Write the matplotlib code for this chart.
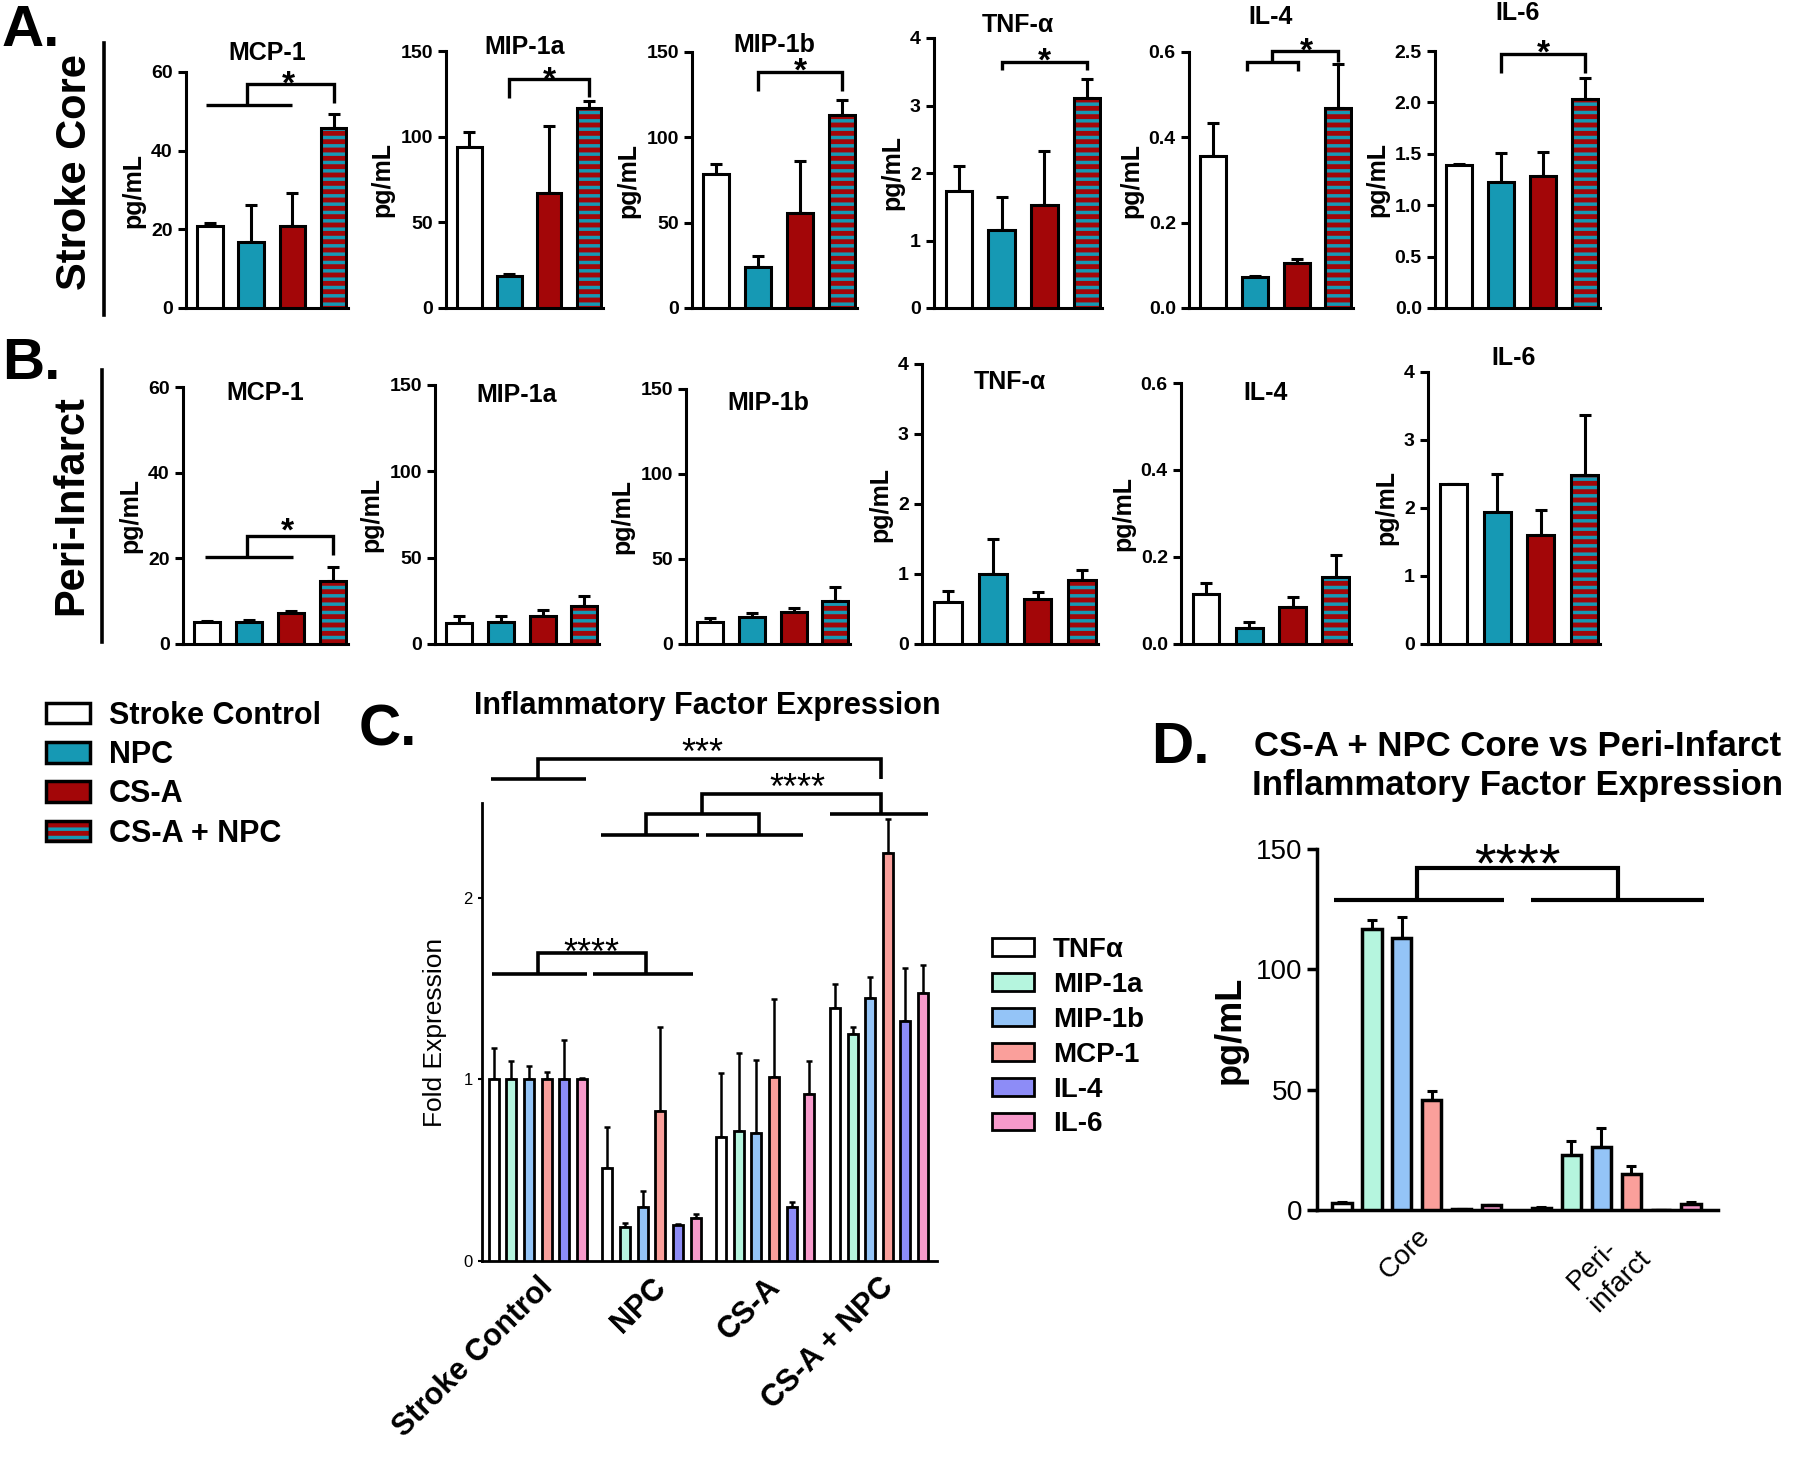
import matplotlib
matplotlib.use('Agg')
import matplotlib.pyplot as plt
from matplotlib.patches import Patch
from matplotlib.lines import Line2D
from matplotlib.ticker import FormatStrFormatter
import numpy as np

# ---- data -------------------------------------------------------------
GROUPS = ['Stroke Control', 'NPC', 'CS-A', 'CS-A + NPC']
CYTOKINES = ['MCP-1', 'MIP-1a', 'MIP-1b', 'TNF-\u03b1', 'IL-4', 'IL-6']

# stroke core, pg/mL (mean, upper SEM) per group
core_mcp1 = [20.8, 16.9, 20.9, 45.8]
core_mcp1_err = [0.8, 9.2, 8.3, 3.5]
core_mip1a = [94.1, 18.4, 67.3, 116.8]
core_mip1a_err = [8.4, 1.6, 38.9, 3.9]
core_mip1b = [78.5, 23.8, 55.5, 113.0]
core_mip1b_err = [5.7, 6.4, 30.6, 8.8]
core_tnf = [1.74, 1.16, 1.53, 3.11]
core_tnf_err = [0.36, 0.49, 0.79, 0.29]
core_il4 = [0.356, 0.0725, 0.105, 0.469]
core_il4_err = [0.077, 0.003, 0.010, 0.104]
core_il6 = [1.39, 1.23, 1.28, 2.03]
core_il6_err = [0.01, 0.28, 0.24, 0.21]

# peri-infarct
peri_mcp1 = [5.05, 5.05, 7.2, 14.8]
peri_mcp1_err = [0.35, 0.65, 0.4, 3.1]
peri_mip1a = [12.1, 12.7, 16.4, 22.2]
peri_mip1a_err = [3.9, 3.7, 3.1, 5.4]
peri_mip1b = [12.7, 15.9, 18.6, 25.5]
peri_mip1b_err = [2.6, 2.3, 2.6, 7.8]
peri_tnf = [0.60, 1.00, 0.643, 0.91]
peri_tnf_err = [0.16, 0.50, 0.10, 0.15]
peri_il4 = [0.115, 0.037, 0.086, 0.153]
peri_il4_err = [0.026, 0.013, 0.022, 0.052]
peri_il6 = [2.36, 1.94, 1.61, 2.48]
peri_il6_err = [0.0, 0.56, 0.36, 0.89]

YMAX_A = [60, 150, 150, 4, 0.6, 2.5]
YMAX_B = [60, 150, 150, 4, 0.6, 4]
NTICK_A = [4, 4, 4, 5, 4, 6]
NTICK_B = [4, 4, 4, 5, 4, 5]
FMT_A = ['%d', '%d', '%d', '%d', '%.1f', '%.1f']
FMT_B = ['%d', '%d', '%d', '%d', '%.1f', '%d']

# panel C: fold expression, order TNFa, MIP-1a, MIP-1b, MCP-1, IL-4, IL-6
FOLD_LABELS = ['TNF\u03b1', 'MIP-1a', 'MIP-1b', 'MCP-1', 'IL-4', 'IL-6']
fold_control = [1.0, 1.0, 1.0, 1.0, 1.0, 1.0]
fold_control_err = [0.17, 0.10, 0.075, 0.04, 0.215, 0.007]
fold_npc = [0.51, 0.188, 0.298, 0.823, 0.197, 0.234]
fold_npc_err = [0.23, 0.02, 0.089, 0.462, 0.006, 0.024]
fold_csa = [0.681, 0.715, 0.705, 1.01, 0.295, 0.921]
fold_csa_err = [0.354, 0.427, 0.40, 0.43, 0.027, 0.179]
fold_csanpc = [1.39, 1.247, 1.446, 2.247, 1.32, 1.473]
fold_csanpc_err = [0.133, 0.043, 0.114, 0.183, 0.293, 0.154]

# panel D: CS-A + NPC, core vs peri-infarct
D_GROUPS = ['Core', 'Peri-\ninfarct']
d_core = [3.1, 116.6, 113.0, 45.8, 0.47, 2.0]
d_core_err = [0.3, 3.9, 8.7, 3.5, 0.10, 0.2]
d_peri = [0.9, 22.8, 26.0, 15.0, 0.15, 2.5]
d_peri_err = [0.15, 5.7, 8.0, 3.2, 0.05, 0.9]

# ---- style ------------------------------------------------------------
W, H = 1800, 1465
TEAL = '#1699b4'
RED = '#a30608'
FOLD_COLORS = ['white', '#b5f5de', '#94c4f7', '#fa9f9b', '#8d8cf7', '#f79acb']

plt.rcParams['font.family'] = ['Liberation Sans', 'DejaVu Sans']
plt.rcParams['hatch.linewidth'] = 2.5
plt.rcParams['axes.linewidth'] = 2.2


def fx(x):
    return x / W


def fy(y):
    return 1 - y / H


def px_rect(x0, x1, ytop, ybot):
    return [x0 / W, 1 - ybot / H, (x1 - x0) / W, (ybot - ytop) / H]


def clean_axes(ax, lw=2.2):
    ax.spines['top'].set_visible(False)
    ax.spines['right'].set_visible(False)
    ax.spines['left'].set_linewidth(lw)
    ax.spines['bottom'].set_linewidth(lw)
    ax.tick_params(axis='x', length=0, labelbottom=False)
    ax.tick_params(axis='y', direction='out', length=6, width=lw)


def star(ax, x, y, s, size, weight='bold'):
    # y is where the asterisk glyph centre should sit
    ax.annotate(s, (x, y), xytext=(0, -0.57 * size), textcoords='offset points',
                ha='center', va='baseline', fontsize=size, fontweight=weight,
                annotation_clip=False)


def bracket(ax, pts, lw=2.4):
    xs, ys = zip(*pts)
    ax.plot(xs, ys, color='k', lw=lw, clip_on=False, solid_capstyle='butt',
            solid_joinstyle='miter')


def cytokine_panel(ax, means, errs, ymax, ntick, fmt):
    x = np.arange(4)
    bw = 0.62
    ax.bar(x[:3], means[:3], bw, color=['white', TEAL, RED],
           edgecolor='k', linewidth=2.2, zorder=3)
    ax.bar(x[3], means[3], bw, color=RED, edgecolor=TEAL, hatch='--',
           linewidth=0, zorder=3)
    ax.bar(x[3], means[3], bw, fill=False, edgecolor='k', linewidth=2.2, zorder=4)
    ax.errorbar(x, means, yerr=[np.zeros(4), errs], fmt='none', ecolor='k',
                elinewidth=2.2, capsize=4.5, capthick=2.2, zorder=2)
    ax.set_xlim(-0.58, 3.35)
    ax.set_ylim(0, ymax)
    ax.set_yticks(np.linspace(0, ymax, ntick))
    ax.yaxis.set_major_formatter(FormatStrFormatter(fmt))
    clean_axes(ax)
    for lab in ax.get_yticklabels():
        lab.set_fontweight('bold')
        lab.set_fontsize(14)
    ax.set_ylabel('pg/mL', fontsize=18, fontweight='bold', labelpad=4)


fig = plt.figure(figsize=(18, 14.65), dpi=100)

# ---- panels A and B ---------------------------------------------------
A_BOXES = [(186, 348, 72), (446, 603, 51), (692, 857, 52),
           (934, 1102, 38), (1189, 1353, 52), (1435, 1600, 51)]
B_BOXES = [(183, 348, 387), (435, 599, 385), (686, 850, 389),
           (922, 1098, 364), (1181, 1351, 383), (1428, 1600, 372)]
A_TITLE_Y = [53, 47, 45, 25, 17, 13]
B_TITLE_Y = [393, 395, 403, 382, 393, 358]

core = [(core_mcp1, core_mcp1_err), (core_mip1a, core_mip1a_err),
        (core_mip1b, core_mip1b_err), (core_tnf, core_tnf_err),
        (core_il4, core_il4_err), (core_il6, core_il6_err)]
peri = [(peri_mcp1, peri_mcp1_err), (peri_mip1a, peri_mip1a_err),
        (peri_mip1b, peri_mip1b_err), (peri_tnf, peri_tnf_err),
        (peri_il4, peri_il4_err), (peri_il6, peri_il6_err)]

A_BRACKETS = [
    [[(-0.1, 51.7), (2.0, 51.7)], [(0.9, 51.7), (0.9, 56.9), (3, 56.9), (3, 52.1)]],
    [[(1, 122.3), (1, 133.5), (3, 133.5), (3, 123.2)]],
    [[(1, 127.2), (1, 138.3), (3, 138.3), (3, 127.2)]],
    [[(1, 3.52), (1, 3.65), (3, 3.65), (3, 3.52)]],
    [[(0.8, 0.555), (0.8, 0.577), (2.03, 0.577), (2.03, 0.555)],
     [(1.4, 0.577), (1.4, 0.603), (3, 0.603), (3, 0.577)]],
    [[(1, 2.29), (1, 2.474), (3, 2.474), (3, 2.29)]],
]
A_STARS = [(1.9, 59.3), (2, 138.8), (2, 144.2), (2, 3.80), (2.24, 0.624), (2, 2.57)]

for i in range(6):
    x0, x1, yt = A_BOXES[i]
    ax = fig.add_axes(px_rect(x0, x1, yt, 308))
    cytokine_panel(ax, core[i][0], core[i][1], YMAX_A[i], NTICK_A[i], FMT_A[i])
    fig.text(fx((x0 + x1) / 2), fy(A_TITLE_Y[i]), CYTOKINES[i], ha='center',
             va='center', fontsize=18, fontweight='bold')
    for pts in A_BRACKETS[i]:
        bracket(ax, pts)
    star(ax, A_STARS[i][0], A_STARS[i][1], '*', 24)

for i in range(6):
    x0, x1, yt = B_BOXES[i]
    ax = fig.add_axes(px_rect(x0, x1, yt, 644))
    cytokine_panel(ax, peri[i][0], peri[i][1], YMAX_B[i], NTICK_B[i], FMT_B[i])
    fig.text(fx((x0 + x1) / 2), fy(B_TITLE_Y[i]), CYTOKINES[i], ha='center',
             va='center', fontsize=18, fontweight='bold')
    if i == 0:
        bracket(ax, [(-0.05, 20.3), (2.04, 20.3)])
        bracket(ax, [(0.94, 20.3), (0.94, 25.2), (3, 25.2), (3, 20.8)])
        star(ax, 1.9, 28.6, '*', 24)

fig.text(fx(2), fy(46), 'A.', fontsize=42, fontweight='bold', va='baseline')
fig.text(fx(2), fy(379), 'B.', fontsize=42, fontweight='bold', va='baseline')
fig.text(fx(75), fy(172), 'Stroke Core', rotation=90, ha='center', va='center',
         fontsize=30, fontweight='bold')
fig.text(fx(71), fy(505), 'Peri-Infarct', rotation=90, ha='center', va='center',
         fontsize=30, fontweight='bold')
fig.add_artist(Line2D([fx(104), fx(104)], [fy(43), fy(315)], color='k', lw=2.6))
fig.add_artist(Line2D([fx(102), fx(102)], [fy(370), fy(642)], color='k', lw=2.6))

# group legend
hatched = (Patch(facecolor=RED, edgecolor=TEAL, hatch='--', linewidth=0),
           Patch(fill=False, edgecolor='k', linewidth=2.5))
handles = [Patch(facecolor='white', edgecolor='k', linewidth=2.5),
           Patch(facecolor=TEAL, edgecolor='k', linewidth=2.5),
           Patch(facecolor=RED, edgecolor='k', linewidth=2.5), hatched]
fig.legend(handles, GROUPS, loc='upper left', bbox_to_anchor=(fx(46), fy(701)),
           frameon=False, prop={'size': 22, 'weight': 'bold'},
           handlelength=1.45, handleheight=0.65, handletextpad=0.6,
           labelspacing=0.3, borderpad=0, borderaxespad=0)

# ---- panel C ----------------------------------------------------------
axc = fig.add_axes(px_rect(482, 937, 803, 1261))
fold = [(fold_control, fold_control_err), (fold_npc, fold_npc_err),
        (fold_csa, fold_csa_err), (fold_csanpc, fold_csanpc_err)]
gx = np.arange(len(GROUPS))
pitch, bw = 0.155, 0.088
for j, lab in enumerate(FOLD_LABELS):
    vals = [fold[g][0][j] for g in range(4)]
    errs = [fold[g][1][j] for g in range(4)]
    xs = gx + (j - 2.5) * pitch
    axc.bar(xs, vals, bw, color=FOLD_COLORS[j], edgecolor='k', linewidth=2.0,
            zorder=3, label=lab)
    axc.errorbar(xs, vals, yerr=[np.zeros(4), errs], fmt='none', ecolor='k',
                 elinewidth=1.8, capsize=2, capthick=1.8, zorder=2)
axc.set_xlim(-0.49, 3.51)
axc.set_ylim(0, 2.52)
axc.set_yticks([0, 1, 2])
clean_axes(axc, lw=2.0)
axc.tick_params(axis='y', length=3, width=1.5, labelsize=12)
axc.tick_params(axis='x', labelbottom=True, pad=8)
axc.set_xticks(gx)
axc.set_xticklabels(GROUPS, rotation=45, ha='right', rotation_mode='anchor',
                    fontsize=22, fontweight='bold')
axc.set_ylabel('Fold Expression', fontsize=19, labelpad=12)

bracket(axc, [(-0.414, 2.654), (0.423, 2.654)], lw=2.6)
bracket(axc, [(0, 2.654), (0, 2.764), (3.02, 2.764), (3.02, 2.654)], lw=2.6)
star(axc, 1.45, 2.85, '***', 26, weight='normal')
bracket(axc, [(0.56, 2.346), (1.42, 2.346)], lw=2.6)
bracket(axc, [(1.48, 2.346), (2.33, 2.346)], lw=2.6)
bracket(axc, [(0.95, 2.346), (0.95, 2.46), (1.947, 2.46), (1.947, 2.346)], lw=2.6)
bracket(axc, [(1.445, 2.46), (1.445, 2.571), (3.02, 2.571), (3.02, 2.46)], lw=2.6)
bracket(axc, [(2.57, 2.46), (3.43, 2.46)], lw=2.6)
star(axc, 2.28, 2.654, '****', 26, weight='normal')
bracket(axc, [(-0.405, 1.577), (0.43, 1.577)], lw=2.6)
bracket(axc, [(0.49, 1.577), (1.366, 1.577)], lw=2.6)
bracket(axc, [(0, 1.577), (0, 1.692), (0.95, 1.692), (0.95, 1.577)], lw=2.6)
star(axc, 0.47, 1.747, '****', 26, weight='normal')

fig.text(fx(707), fy(706), 'Inflammatory Factor Expression', ha='center',
         va='center', fontsize=22, fontweight='bold')
fig.text(fx(359), fy(746), 'C.', fontsize=42, fontweight='bold', va='baseline')

hc, lc = axc.get_legend_handles_labels()
fig.legend(hc, lc, loc='upper left', bbox_to_anchor=(fx(992), fy(937)),
           frameon=False, prop={'size': 20, 'weight': 'bold'},
           handlelength=1.5, handleheight=0.6, handletextpad=0.7,
           labelspacing=0.32, borderpad=0, borderaxespad=0)

# ---- panel D ----------------------------------------------------------
axd = fig.add_axes(px_rect(1317, 1718, 849, 1210))
dx = np.arange(len(D_GROUPS))
for j in range(len(FOLD_LABELS)):
    vals = [d_core[j], d_peri[j]]
    errs = [d_core_err[j], d_peri_err[j]]
    xs = dx + (j - 2.5) * 0.15
    axd.bar(xs, vals, 0.097, color=FOLD_COLORS[j], edgecolor='k',
            linewidth=2.5, zorder=3)
    axd.errorbar(xs, vals, yerr=[np.zeros(2), errs], fmt='none', ecolor='k',
                 elinewidth=2.2, capsize=3.5, capthick=2.2, zorder=2)
axd.set_xlim(-0.5, 1.51)
axd.set_ylim(0, 150)
axd.set_yticks([0, 50, 100, 150])
clean_axes(axd, lw=2.5)
axd.tick_params(axis='y', length=7, width=2.5, labelsize=20)
axd.tick_params(axis='x', labelbottom=True, pad=10)
axd.set_xticks(dx)
axd.set_xticklabels(D_GROUPS, rotation=45, ha='right', rotation_mode='anchor',
                    fontsize=20, multialignment='left')
axd.set_ylabel('pg/mL', fontsize=26, fontweight='bold', labelpad=6)

bracket(axd, [(-0.415, 128.8), (0.437, 128.8)], lw=3)
bracket(axd, [(0.572, 128.8), (1.44, 128.8)], lw=3)
bracket(axd, [(0, 128.8), (0, 142.1), (1.01, 142.1), (1.01, 128.8)], lw=3)
star(axd, 0.505, 149.8, '****', 40, weight='normal')

fig.text(fx(1518), fy(766), 'CS-A + NPC Core vs Peri-Infarct\nInflammatory Factor Expression',
         ha='center', va='center', fontsize=25, fontweight='bold', linespacing=1.2)
fig.text(fx(1151), fy(763), 'D.', fontsize=42, fontweight='bold', va='baseline')

fig.savefig('out.png', dpi=100)
